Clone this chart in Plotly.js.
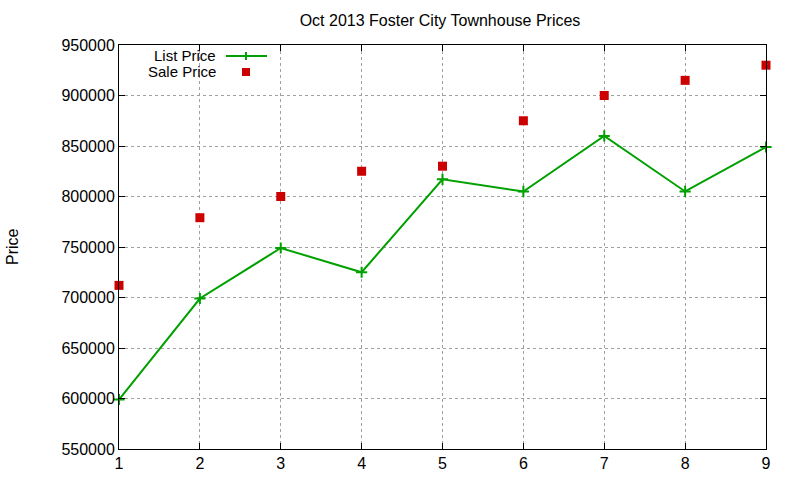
<!DOCTYPE html>
<html>
<head>
<meta charset="utf-8">
<script src="https://cdn.plot.ly/plotly-3.0.1.min.js"></script>
<style>
  html, body { margin: 0; padding: 0; background: #fff; }
  #plot { width: 800px; height: 480px; }
</style>
</head>
<body>
<div id="plot"></div>
<script>
const months = [1, 2, 3, 4, 5, 6, 7, 8, 9];
const listPrice = [599000, 699000, 749000, 725000, 817000, 805000, 860000, 805000, 849000];
const salePrice = [712000, 779000, 800000, 825000, 830000, 875000, 900000, 915000, 930000];
const yTicks = [550000, 600000, 650000, 700000, 750000, 800000, 850000, 900000, 950000];

const font = { family: 'Liberation Sans, Arial, sans-serif', color: '#000' };
const green = '#00a000';
const red = '#cc0000';

const data = [
  {
    type: 'scatter', mode: 'lines+markers', name: 'List Price',
    x: months, y: listPrice,
    line: { color: green, width: 2 },
    marker: { symbol: 'cross-thin', size: 8, line: { color: green, width: 2 } },
    cliponaxis: false
  },
  {
    type: 'scatter', mode: 'markers', name: 'Sale Price',
    x: months, y: salePrice,
    marker: { symbol: 'square', size: 9, color: red },
    cliponaxis: false
  }
];

// legend drawn by hand, gnuplot style (text on the left, sample on the right)
const W = 647, H = 404;
const px = v => (v - 119) / W;
const py = v => (449 - v) / H;

const layout = {
  width: 800, height: 480,
  margin: { l: 119, r: 34, t: 45, b: 31 },
  paper_bgcolor: '#fff', plot_bgcolor: '#fff',
  showlegend: false,
  font: Object.assign({ size: 16 }, font),
  title: {
    text: 'Oct 2013 Foster City Townhouse Prices',
    font: Object.assign({ size: 16 }, font),
    x: 0.55, xanchor: 'center', y: 0.958, yanchor: 'middle'
  },
  xaxis: {
    range: [1, 9], tickvals: months, ticks: 'inside', ticklen: 6,
    tickcolor: '#000', showline: true, linecolor: '#000', linewidth: 1, mirror: 'allticks',
    showgrid: true, gridcolor: '#a0a0a0', griddash: 'dot', gridwidth: 1,
    zeroline: false, tickfont: Object.assign({ size: 16 }, font)
  },
  yaxis: {
    range: [550000, 950000], tickvals: yTicks, ticktext: yTicks.map(String),
    ticks: 'inside', ticklen: 6,
    tickcolor: '#000', showline: true, linecolor: '#000', linewidth: 1, mirror: 'allticks',
    showgrid: true, gridcolor: '#a0a0a0', griddash: 'dot', gridwidth: 1,
    zeroline: false, tickfont: Object.assign({ size: 16 }, font)
  },
  shapes: [
    { type: 'line', xref: 'paper', yref: 'paper',
      x0: px(226), x1: px(267), y0: py(56), y1: py(56),
      line: { color: green, width: 2 } },
    { type: 'line', xref: 'paper', yref: 'paper',
      x0: px(246), x1: px(246), y0: py(52), y1: py(60),
      line: { color: green, width: 2 } },
    { type: 'rect', xref: 'paper', yref: 'paper',
      x0: px(242), x1: px(250), y0: py(68), y1: py(76),
      fillcolor: red, line: { width: 0 } }
  ],
  annotations: [
    { text: 'Price', xref: 'paper', yref: 'paper', x: px(12), y: 0.5,
      textangle: -90, showarrow: false, xanchor: 'center', yanchor: 'middle',
      font: Object.assign({ size: 16 }, font) },
    { text: 'List Price', xref: 'paper', yref: 'paper', x: px(218), y: py(55),
      showarrow: false, xanchor: 'right', yanchor: 'middle',
      font: Object.assign({ size: 15 }, font) },
    { text: 'Sale Price', xref: 'paper', yref: 'paper', x: px(218), y: py(72),
      showarrow: false, xanchor: 'right', yanchor: 'middle',
      font: Object.assign({ size: 15 }, font) }
  ]
};

Plotly.newPlot('plot', data, layout, { displayModeBar: false, staticPlot: true });
</script>
</body>
</html>
